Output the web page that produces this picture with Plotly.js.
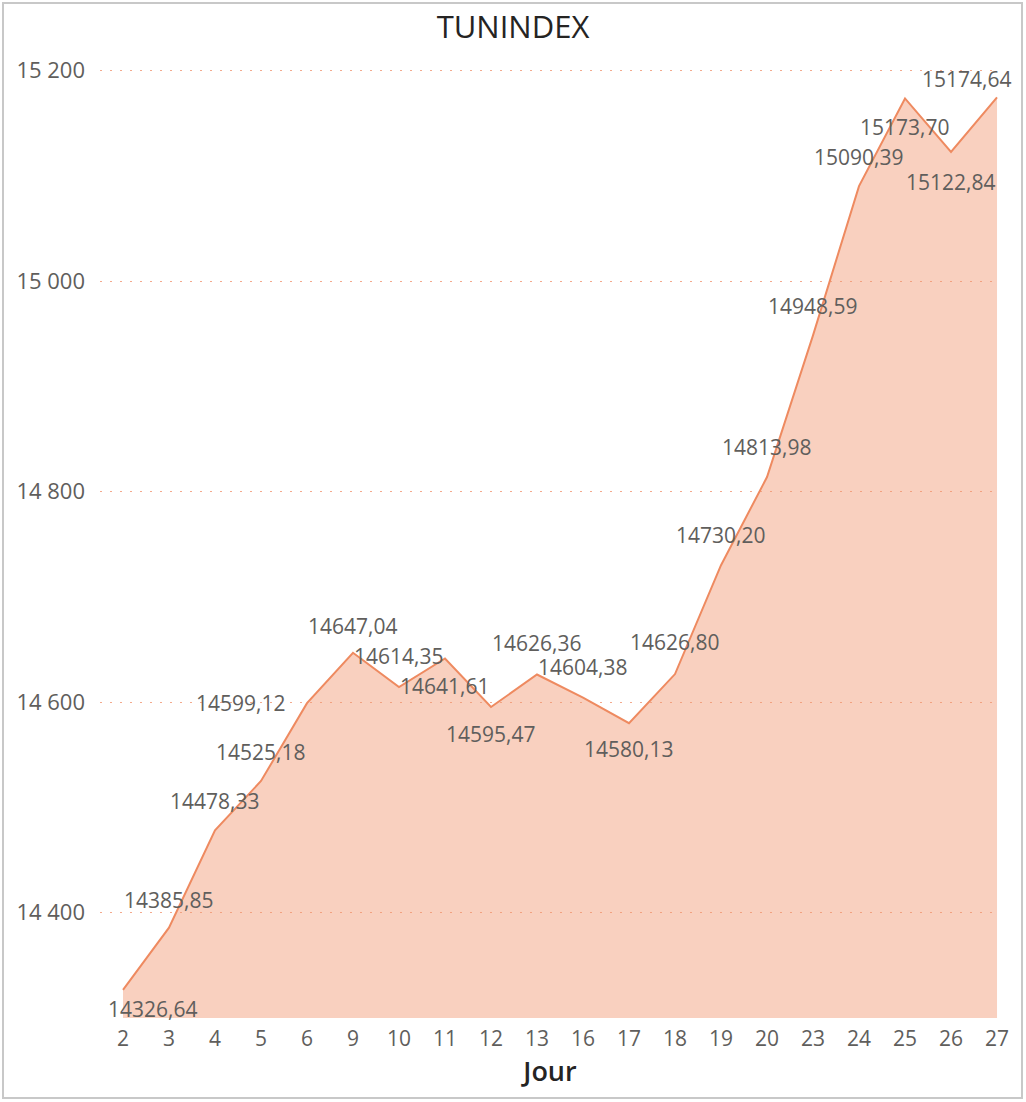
<!DOCTYPE html>
<html>
<head>
<meta charset="utf-8">
<script src="https://cdn.plot.ly/plotly-3.0.1.min.js"></script>
<style>
  body { margin: 0; background: #fff; }
  #chart { width: 1026px; height: 1102px; }
</style>
</head>
<body>
<div id="chart"></div>
<script>
// days of the month (categories) and closing values of the index
var jours = ['2', '3', '4', '5', '6', '9', '10', '11', '12', '13',
             '16', '17', '18', '19', '20', '23', '24', '25', '26', '27'];
var tunindex = [14326.64, 14385.85, 14478.33, 14525.18, 14599.12, 14647.04, 14614.35, 14641.61, 14595.47, 14626.36,
                14604.38, 14580.13, 14626.80, 14730.20, 14813.98, 14948.59, 15090.39, 15173.70, 15122.84, 15174.64];
var yTicks = [14400, 14600, 14800, 15000, 15200];

// where each data label sits relative to its point (px)
var labelDx = [30, 0, 0, 0, -66, 0, 0, 0, 0, 0, 0, 0, 0, 0, 0, 0, 0, 0, 0, -30];
var labelDy = [-19, 28, 29, 29, 0, 27, 31, -28, -27, 32, 31, -26, 32, 30, 30, 29, 29, -29, -30, 18];

var font = '"Open Sans", "Noto Sans", sans-serif';

function fmt(v) {
    return v.toFixed(2).replace('.', ',');
}

var trace = {
    x: jours,
    y: tunindex,
    type: 'scatter',
    mode: 'lines',
    fill: 'tozeroy',
    fillcolor: 'rgba(241,150,112,0.45)',
    line: { color: '#EE8A60', width: 2 },
    hoverinfo: 'x+y'
};

// category axis: annotations are placed by category index
var annotations = jours.map(function (j, i) {
    return {
        x: i,
        y: tunindex[i],
        text: fmt(tunindex[i]),
        showarrow: false,
        xanchor: 'center',
        yanchor: 'middle',
        xshift: labelDx[i],
        yshift: labelDy[i],
        font: { family: font, size: 21, color: '#605E5C' }
    };
});

var layout = {
    width: 1026,
    height: 1102,
    margin: { l: 100, r: 26, t: 55, b: 84 },
    paper_bgcolor: '#fff',
    plot_bgcolor: '#fff',
    separators: ', ',
    showlegend: false,
    title: {
        text: 'TUNINDEX',
        x: 0.5,
        xref: 'container',
        xanchor: 'center',
        y: 1 - 27 / 1102,
        yanchor: 'middle',
        font: { family: font, size: 31, color: '#252423', weight: 500 }
    },
    xaxis: {
        type: 'category',
        range: [-0.5, 19.065],
        showgrid: false,
        zeroline: false,
        showline: false,
        ticks: '',
        ticklabelstandoff: 6,
        tickfont: { family: font, size: 21, color: '#605E5C' },
        title: {
            text: 'Jour',
            standoff: 9,
            font: { family: font, size: 27, color: '#252423', weight: 600 }
        }
    },
    yaxis: {
        range: [14300, 15215],
        tickvals: yTicks,
        tickformat: ',d',
        showgrid: true,
        gridcolor: '#F3A98D',
        griddash: '2px,8px',
        gridwidth: 1,
        zeroline: false,
        showline: false,
        ticks: '',
        ticklabelstandoff: 14,
        tickfont: { family: font, size: 22, color: '#605E5C' }
    },
    annotations: annotations,
    shapes: [{
        type: 'rect',
        xref: 'paper', yref: 'paper',
        x0: (3 - 100) / 900, x1: (1022 - 100) / 900,
        y0: (1018 - 1098) / 963, y1: (1018 - 3) / 963,
        line: { color: '#C8C8C8', width: 2 },
        fillcolor: 'rgba(0,0,0,0)',
        layer: 'below'
    }]
};

Plotly.newPlot('chart', [trace], layout, { displayModeBar: false, staticPlot: true });
</script>
</body>
</html>
